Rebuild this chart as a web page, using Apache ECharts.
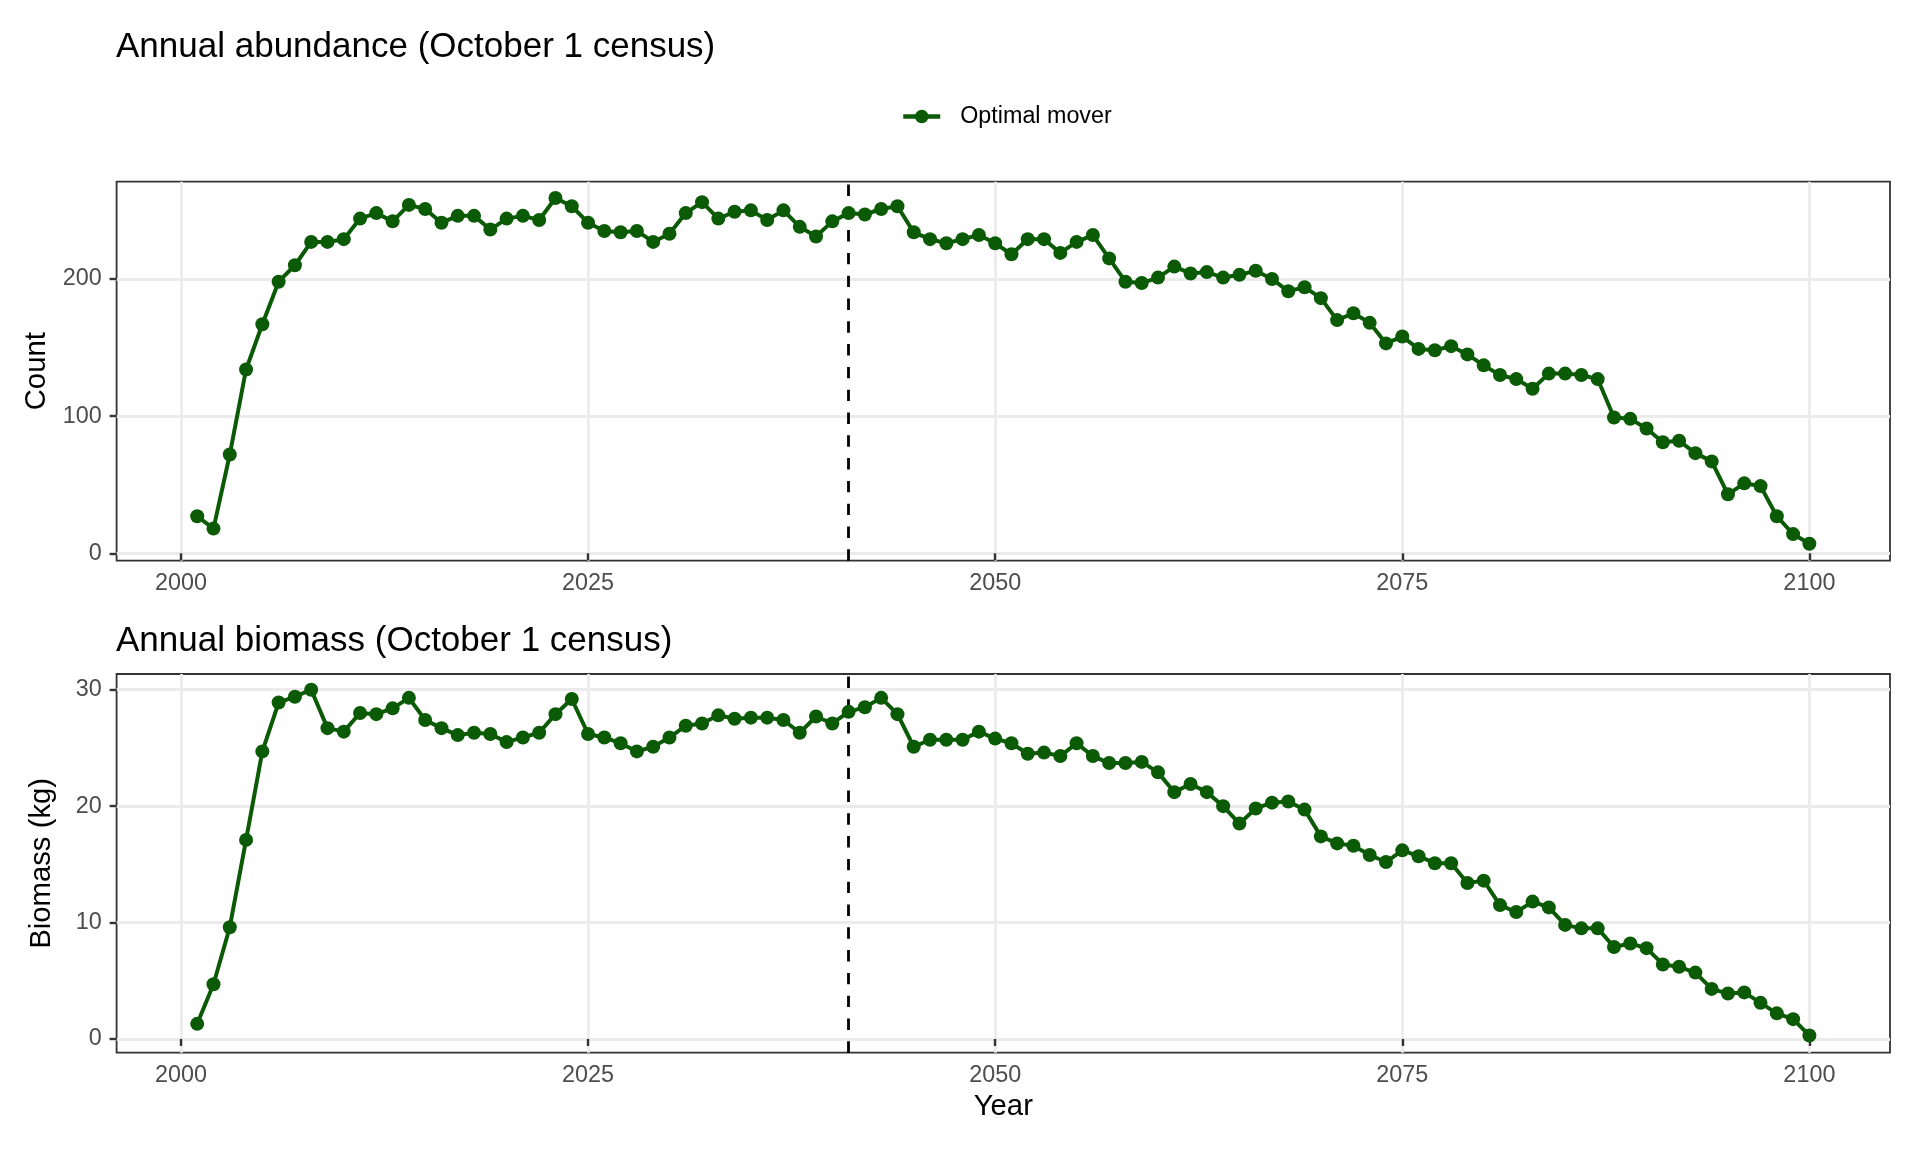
<!DOCTYPE html>
<html>
<head>
<meta charset="utf-8">
<script src="https://cdn.jsdelivr.net/npm/echarts@6/dist/echarts.min.js"></script>
<style>
  html, body { margin: 0; padding: 0; background: #ffffff; }
  #chart { width: 1920px; height: 1152px; }
</style>
</head>
<body>
<div id="chart"></div>
<script>
const years = [
  2001, 2002, 2003, 2004, 2005, 2006, 2007, 2008, 2009, 2010,
  2011, 2012, 2013, 2014, 2015, 2016, 2017, 2018, 2019, 2020,
  2021, 2022, 2023, 2024, 2025, 2026, 2027, 2028, 2029, 2030,
  2031, 2032, 2033, 2034, 2035, 2036, 2037, 2038, 2039, 2040,
  2041, 2042, 2043, 2044, 2045, 2046, 2047, 2048, 2049, 2050,
  2051, 2052, 2053, 2054, 2055, 2056, 2057, 2058, 2059, 2060,
  2061, 2062, 2063, 2064, 2065, 2066, 2067, 2068, 2069, 2070,
  2071, 2072, 2073, 2074, 2075, 2076, 2077, 2078, 2079, 2080,
  2081, 2082, 2083, 2084, 2085, 2086, 2087, 2088, 2089, 2090,
  2091, 2092, 2093, 2094, 2095, 2096, 2097, 2098, 2099, 2100
];

const counts = [
  27, 18, 72, 134, 167, 198, 210, 227, 227, 229,
  244, 248, 242, 254, 251, 241, 246, 246, 236, 244,
  246, 243, 259, 253, 241, 235, 234, 235, 227, 233,
  248, 256, 244, 249, 250, 243, 250, 238, 231, 242,
  248, 247, 251, 253, 234, 229, 226, 229, 232, 226,
  218, 229, 229, 219, 227, 232, 215, 198, 197, 201,
  209, 204, 205, 201, 203, 206, 200, 191, 194, 186,
  170, 175, 168, 153, 158, 149, 148, 151, 145, 137,
  130, 127, 120, 131, 131, 130, 127, 99, 98, 91,
  81, 82, 73, 67, 43, 51, 49, 27, 14, 7
];

const biomass = [
  1.3, 4.7, 9.6, 17.1, 24.7, 28.9, 29.4, 30.0, 26.7, 26.4,
  28.0, 27.9, 28.4, 29.3, 27.4, 26.7, 26.1, 26.3, 26.2, 25.5,
  25.9, 26.3, 27.9, 29.2, 26.2, 25.9, 25.4, 24.7, 25.1, 25.9,
  26.9, 27.1, 27.8, 27.5, 27.6, 27.6, 27.4, 26.3, 27.7, 27.1,
  28.1, 28.5, 29.3, 27.9, 25.1, 25.7, 25.7, 25.7, 26.4, 25.8,
  25.4, 24.5, 24.6, 24.3, 25.4, 24.3, 23.7, 23.7, 23.8, 22.9,
  21.2, 21.9, 21.2, 20.0, 18.5, 19.8, 20.3, 20.4, 19.7, 17.4,
  16.8, 16.6, 15.8, 15.2, 16.2, 15.7, 15.1, 15.1, 13.4, 13.6,
  11.5, 10.9, 11.8, 11.3, 9.8, 9.5, 9.5, 7.9, 8.2, 7.8,
  6.4, 6.2, 5.7, 4.3, 3.9, 4.0, 3.1, 2.2, 1.7, 0.3
];

const xTicks = [2000, 2025, 2050, 2075, 2100];
const countTicks = [0, 100, 200];
const biomassTicks = [0, 10, 20, 30];
const switchYear = 2041;

const seriesName = 'Optimal mover';
const titles = ['Annual abundance (October 1 census)', 'Annual biomass (October 1 census)'];
const yNames = ['Count', 'Biomass (kg)'];
const xName = 'Year';

const FONT = "'Liberation Sans', Arial, Helvetica, sans-serif";
const GREEN = '#0b5a06';

function plainNumber(v) { return String(v); }

function xAxisCfg(idx, showName) {
  return {
    gridIndex: idx,
    type: 'value',
    min: 1996.05,
    max: 2104.95,
    name: showName ? xName : '',
    nameLocation: 'middle',
    nameGap: 39.2,
    nameTextStyle: { fontSize: 29.3, color: '#000000', fontFamily: FONT, lineHeight: 29.3 },
    axisLine: { show: false },
    axisTick: { show: true, length: 7, customValues: xTicks, lineStyle: { color: '#333333', width: 2.4 } },
    axisLabel: { customValues: xTicks, formatter: plainNumber, margin: 11.5, fontSize: 23.4, lineHeight: 23.4, color: '#4d4d4d', fontFamily: FONT },
    splitLine: { show: true, lineStyle: { color: '#ebebeb', width: 2.8 } },
    minorSplitLine: { show: false }
  };
}

function yAxisCfg(idx, min, max, ticks, name) {
  return {
    gridIndex: idx,
    type: 'value',
    min: min,
    max: max,
    name: name,
    nameLocation: 'middle',
    nameGap: 60,
    nameTextStyle: { fontSize: 29.3, color: '#000000', fontFamily: FONT, lineHeight: 29.3 },
    axisLine: { show: false },
    axisTick: { show: true, length: 7, customValues: ticks, lineStyle: { color: '#333333', width: 2.4 } },
    axisLabel: { customValues: ticks, formatter: plainNumber, margin: 14.8, fontSize: 23.4, lineHeight: 23.4, color: '#4d4d4d', fontFamily: FONT },
    splitLine: { show: true, lineStyle: { color: '#ebebeb', width: 2.8 } }
  };
}

function lineSeries(idx, values) {
  return {
    name: seriesName,
    type: 'line',
    xAxisIndex: idx,
    yAxisIndex: idx,
    data: years.map((y, i) => [y, values[i]]),
    symbol: 'circle',
    symbolSize: 14,
    showAllSymbol: true,
    lineStyle: { color: GREEN, width: 4 },
    itemStyle: { color: GREEN },
    emphasis: { disabled: true },
    animation: false,
    z: 3,
    markLine: {
      silent: true,
      symbol: 'none',
      animation: false,
      label: { show: false },
      lineStyle: { color: '#000000', type: [11.4, 11.4], width: 2.8 },
      data: [{ xAxis: switchYear }],
      z: 2
    }
  };
}

const option = {
  backgroundColor: '#ffffff',
  animation: false,
  title: [
    { text: titles[0], left: 116, top: 30, padding: 0,
      textStyle: { fontSize: 35, fontWeight: 'normal', color: '#000000', fontFamily: FONT, lineHeight: 35 } },
    { text: titles[1], left: 116, top: 624, padding: 0,
      textStyle: { fontSize: 35, fontWeight: 'normal', color: '#000000', fontFamily: FONT, lineHeight: 35 } }
  ],
  legend: {
    data: [seriesName],
    left: 901,
    top: 104.5,
    padding: 0,
    itemWidth: 37,
    itemHeight: 17,
    lineStyle: { width: 4.5 },
    textStyle: { fontSize: 23.3, color: '#000000', fontFamily: FONT, lineHeight: 24, padding: [0, 0, 0, 15] },
    selectedMode: false
  },
  grid: [
    { left: 116.6, top: 181.7, width: 1773.4, height: 379, show: true, borderColor: '#333333', borderWidth: 1.8, backgroundColor: 'transparent', containLabel: false },
    { left: 116.6, top: 674, width: 1773.4, height: 378.7, show: true, borderColor: '#333333', borderWidth: 1.8, backgroundColor: 'transparent', containLabel: false }
  ],
  xAxis: [xAxisCfg(0, false), xAxisCfg(1, true)],
  yAxis: [
    yAxisCfg(0, -5.4, 270.9, countTicks, yNames[0]),
    yAxisCfg(1, -1.18, 31.35, biomassTicks, yNames[1])
  ],
  series: [lineSeries(0, counts), lineSeries(1, biomass)]
};

const chart = echarts.init(document.getElementById('chart'), null, { renderer: 'canvas' });
chart.setOption(option);
</script>
</body>
</html>
